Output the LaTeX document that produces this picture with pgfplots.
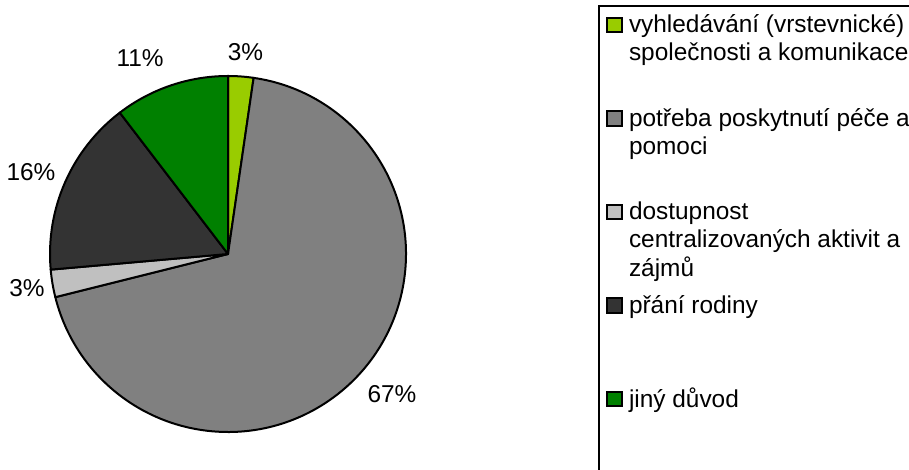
\documentclass[border=0pt]{standalone}
\usepackage{fontspec}
\setmainfont{Liberation Sans}
\usepackage{pgfplots}
\pgfplotsset{compat=1.18}
\definecolor{cA}{HTML}{99CC00}
\definecolor{cB}{HTML}{808080}
\definecolor{cC}{HTML}{C0C0C0}
\definecolor{cD}{HTML}{333333}
\definecolor{cE}{HTML}{008000}
\newcommand\lfont{\fontsize{12.2}{14}\selectfont}
% slice: cumulative start %, cumulative end %, colour
\newcommand\slice[3]{\filldraw[fill=#3, draw=black, line width=1pt, line join=round]
  (axis cs:0,0) -- ++({90-3.6*#1}:89pt) arc[start angle={90-3.6*#1}, end angle={90-3.6*#2}, radius=89pt] -- cycle;}
\begin{document}
\begin{tikzpicture}
\begin{axis}[at={(114pt,108pt)}, anchor=center, scale only axis,
  width=178pt, height=178pt, xmin=-1, xmax=1, ymin=-1, ymax=1,
  enlargelimits=false, hide axis, clip=false,
  legend style={at={(1.53933,1.19944)}, anchor=north west, draw=black,
    line width=1pt, inner xsep=3.5pt, inner ysep=4.5pt, column sep=3pt,
    font=\lfont, cells={anchor=base west},
    nodes={inner sep=0pt, text height=9pt, text depth=37.75pt}},
  legend image code/.code={\draw[#1, line width=0.9pt] (0pt,0.4pt) rectangle (7.6pt,7.6pt);},
]
% values (percent): 2.3, 68.8, 2.5, 16.0, 10.4
\slice{0}{2.3}{cA}
\slice{2.3}{71.1}{cB}
\slice{71.1}{73.6}{cC}
\slice{73.6}{89.6}{cD}
\slice{89.6}{100}{cE}
\node[font=\lfont] at (axis cs:0.098,1.135) {3\%};
\node[font=\lfont] at (axis cs:0.921,-0.787) {67\%};
\node[font=\lfont] at (axis cs:-1.129,-0.191) {3\%};
\node[font=\lfont] at (axis cs:-1.107,0.461) {16\%};
\node[font=\lfont] at (axis cs:-0.494,1.101) {11\%};
\addlegendimage{fill=cA, draw=black}
\addlegendentry{\parbox[t]{150pt}{vyhledávání (vrstevnické)\\společnosti a komunikace}}
\addlegendimage{fill=cB, draw=black}
\addlegendentry{\parbox[t]{150pt}{potřeba poskytnutí péče a\\pomoci}}
\addlegendimage{fill=cC, draw=black}
\addlegendentry{\parbox[t]{150pt}{dostupnost\\centralizovaných aktivit a\\zájmů}}
\addlegendimage{fill=cD, draw=black}
\addlegendentry{\parbox[t]{150pt}{přání rodiny}}
\addlegendimage{fill=cE, draw=black}
\addlegendentry{\parbox[t]{150pt}{jiný důvod}}
\end{axis}
\pgfresetboundingbox
\path[use as bounding box] (0,0) rectangle (454.5pt,235pt);
\end{tikzpicture}
\end{document}
